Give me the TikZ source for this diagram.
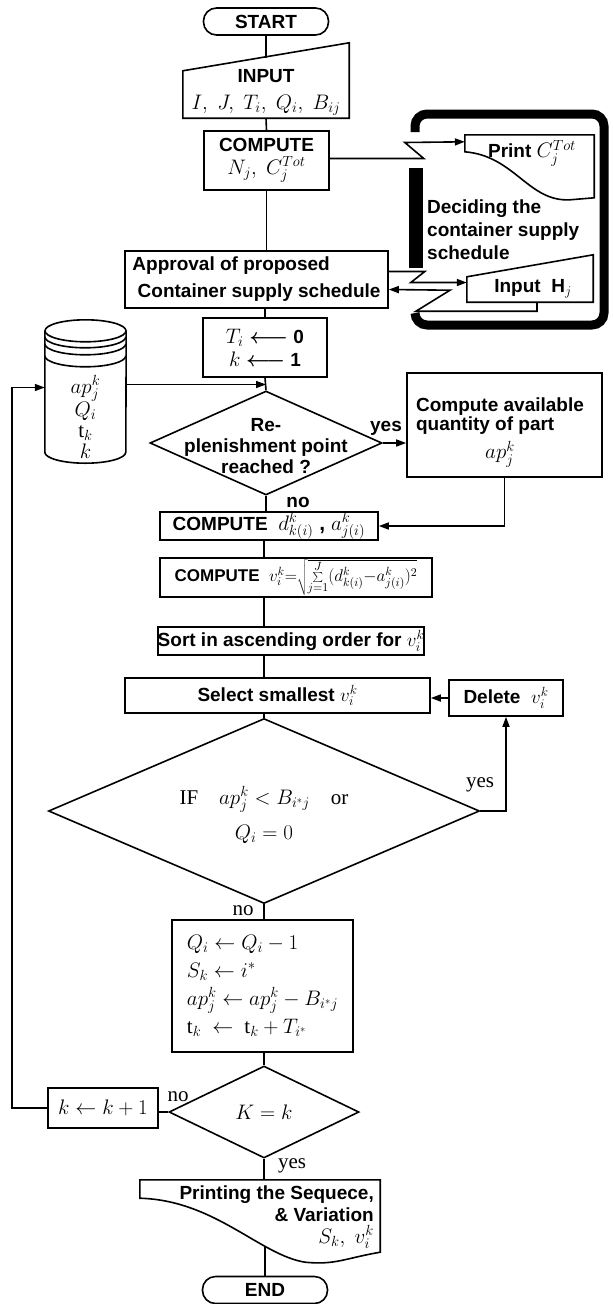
\RequirePackage{fix-cm}
\documentclass[tikz,border=0pt]{standalone}
\usepackage{fontspec}
\setmainfont{Liberation Serif}
\setsansfont{Liberation Sans}
\usetikzlibrary{shapes.geometric,arrows.meta,calc}

\newcommand{\lblfont}{\sffamily\bfseries\fontsize{19}{23}\selectfont}
\newcommand{\mfont}{\fontsize{21}{26}\selectfont}

\begin{document}
\begin{tikzpicture}[
  x=1pt, y=-1pt,
  line/.style={line width=1.6pt},
  box/.style={rectangle, draw, line width=1.6pt, align=center, font=\lblfont, inner sep=0pt},
  term/.style={box, rounded corners=13pt, minimum width=125pt, minimum height=27pt},
  hold/.style={rectangle, inner sep=0pt},
  dia/.style={diamond, draw, line width=1.6pt, inner sep=0pt},
  arrow/.style={line, -{Triangle[length=10pt, width=7pt]}},
  tag/.style={font=\lblfont, inner sep=0pt},
  rmtag/.style={font=\rmfamily\fontsize{21}{25}\selectfont, inner sep=0pt},
]
\useasboundingbox (0,0) rectangle (613,1304);
\coordinate (axis) at (264,0);

% === Start / input ===
\node[term] (start) at (266, 21.5) {START};
\node[hold, minimum width=166pt, minimum height=75pt] (inp) at (266, 80.5) {};
\draw[line] (inp.south west) -- (inp.south east) -- (inp.north east) -- ([yshift=-28pt]inp.north west) -- cycle;
\node[tag, align=center] (inptxt) at (266, 92) {INPUT\\[4pt]{\mfont $I,\ J,\ T_i,\ Q_i,\ B_{ij}$}};
\coordinate (inptop) at (266, 57.5);
\draw[line] (start) -- (inptop);

% === Compute N, C ===
\node[box, minimum width=125pt, minimum height=59pt] (cnj) at (266.5, 160.5) {COMPUTE\\{\mfont $N_j,\ C_j^{Tot}$}};
\draw[line] (inp.south) -- (cnj.north);

% === Approval ===
\node[box, minimum width=263pt, minimum height=57pt, align=left] (appr) at (256.5, 279.5) {Approval of proposed\\[4pt]\ Container supply schedule};
\draw[line] (cnj.south) -- (cnj.south |- appr.north);

% === Supply schedule frame (right) ===
\node[hold, minimum width=129pt, minimum height=65pt] (prc) at (529.5, 167.5) {};
\draw[line] (prc.north west) -- (prc.north east) -- ++(0,63) -- ++(-24,2)
  .. controls ($(prc.south east)+(-66,2)$) and ($(prc.north west)+(50,21)$) .. ([yshift=-17pt]prc.north west) -- cycle;
\node[tag] (prctxt) at (532, 153) {Print {\mfont $C_j^{Tot}$}};

\node[hold, minimum width=126pt, minimum height=47pt] (inh) at (530, 278.5) {};
\draw[line] (inh.south west) -- (inh.south east) -- (inh.north east) -- ([yshift=-22pt]inh.north west) -- cycle;
\node[tag] (inhtxt) at (533, 289) {Input\ \ H$_j$};

\node[tag, align=left, anchor=west] (dec) at (427, 230) {Deciding the\\container supply\\schedule};

\draw[line width=9pt, rounded corners=12pt] (415,132) -- (415,114) -- (604,114) -- (604,325) -- (415,325) -- (415,313);
\draw[line width=14pt] (415.5,168) -- (415.5,268);

\draw[arrow] ([yshift=2pt]cnj.east) -- ++(94,0) -- ++(-19,-16) -- ([yshift=-7pt]prc.north west);
\draw[arrow] ([yshift=8pt]appr.east) -- ++(36,0) -- ++(-14,11) -- ([yshift=-4pt]inh.west);
\draw[arrow] ([xshift=7pt]inh.south) -- ++(0,9) -- ++(-121,0) -- ++(34,-21) -- ([yshift=-10pt]appr.east);

% === Init ===
\node[box, minimum width=124pt, minimum height=59pt] (tbox) at (265, 347.5) {{\mfont $T_i$ {\boldmath$\longleftarrow$}} 0\\{\mfont $k$ {\boldmath$\longleftarrow$}} 1};
\draw[line] (tbox.north |- appr.south) -- (tbox.north);

% === Data store ===
\node[hold, minimum width=81pt, minimum height=143pt] (store) at (85.5, 391.5) {};
\draw[line] ([yshift=-11pt]store.north west) -- ([yshift=11pt]store.south west)
  arc[start angle=180, end angle=360, x radius=40.5pt, y radius=11pt] -- ([yshift=-11pt]store.north east);
\draw[line] ([yshift=-11pt]store.north) ellipse[x radius=40.5pt, y radius=11pt];
\foreach \off in {17,24,36}
  \draw[line] ([yshift=-\off pt]store.north west) arc[start angle=180, end angle=360, x radius=40.5pt, y radius=11pt];
\node[align=center, inner sep=0pt, font=\fontsize{21}{21}\selectfont] (storetxt) at (85.5, 417) {$ap_j^k$\\$Q_i$\\$\mathrm{t}_k$\\$k$};

% === Replenishment ===
\node[dia, minimum width=232pt, minimum height=104pt] (rep) at (266, 443) {};
\node[tag, align=center, font=\sffamily\bfseries\fontsize{19}{21}\selectfont] (reptxt) at (266, 446) {Re-\\plenishment point\\reached ?};
\draw[line] (tbox.south) -- (rep.north);
\coordinate (storeout) at ([yshift=7pt]store.east);
\draw[arrow] (storeout) -- (storeout -| rep.north);

\node[box, minimum width=195pt, minimum height=104pt] (cav) at (504.5, 425) {};
\node[tag, align=left, font=\sffamily\bfseries\fontsize{19}{19}\selectfont] (cavtxt) at (500, 416) {Compute available\\quantity of part};
\node[inner sep=0pt, font=\mfont] (cavap) at (500, 454) {$ap_j^k$};
\draw[arrow] (rep.east) -- (rep.east -| cav.west);
\node[tag] (repyes) at (386, 428) {yes};

% === Distances ===
\node[box, minimum width=218pt, minimum height=28pt] (dbox) at (269, 526) {COMPUTE\ \ {\mfont $d^k_{k(i)}$\ ,\ $a^k_{j(i)}$}};
\draw[line] (rep.south) -- (rep.south |- dbox.north);
\node[tag] (repno) at (298, 502) {no};
\draw[arrow] (cav.south) |- (dbox.east);

\node[box, minimum width=272pt, minimum height=39pt, font=\sffamily\bfseries\fontsize{17}{20}\selectfont] (vbox) at (296, 577.5) {COMPUTE\ \ $v_i^k{=}\sqrt{\sum\limits_{j=1}^{J}(d^k_{k(i)}{-}a^k_{j(i)})^2}$};
\draw[line] (dbox.south -| axis) -- (vbox.north -| axis);

\node[box, minimum width=262pt, minimum height=28pt] (sbox) at (291, 641) {Sort in ascending order for $v_i^k$};
\draw[line] (vbox.south -| axis) -- (sbox.north -| axis);

% === Select / delete ===
\node[box, minimum width=305pt, minimum height=35pt] (sel) at (277.5, 695.5) {Select smallest $v_i^k$};
\node[box, minimum width=114pt, minimum height=36pt] (del) at (506, 698) {Delete\ \ $v_i^k$};
\draw[line] (sbox.south -| axis) -- (sel.north -| axis);
\draw[arrow] (del.west) -- (del.west -| sel.east);

\node[dia, minimum width=431pt, minimum height=185pt] (cond) at (264, 811) {};
\node[rmtag, align=center] (condtxt) at (264, 815) {IF\quad $ap_j^k < B_{i^*j}$\quad or\\[10pt]$Q_i = 0$};
\draw[line] (sel.south -| axis) -- (cond.north);
\draw[arrow] (cond.east) -| (del.south);
\node[rmtag] (condyes) at (480, 785) {yes};

% === Update ===
\node[box, minimum width=181pt, minimum height=132pt, align=left, font=\fontsize{21}{28}\selectfont] (qbox) at (262.5, 986) {$Q_i \leftarrow Q_i - 1$\\$S_k \leftarrow i^*$\\$ap_j^k \leftarrow ap_j^k - B_{i^*j}$\\$\mathrm{t}_k\ \leftarrow\ \mathrm{t}_k + T_{i^*}$};
\draw[line] (cond.south) -- (cond.south |- qbox.north);
\node[rmtag] (condno) at (243, 911) {no};

% === Loop test ===
\node[dia, minimum width=190pt, minimum height=92pt] (kk) at (264, 1112) {};
\node[inner sep=0pt, font=\mfont] (kktxt) at (kk) {$K = k$};
\draw[line] (qbox.south -| axis) -- (kk.north);

\node[box, minimum width=110pt, minimum height=40pt, font=\mfont] (inc) at (103, 1108) {$k \leftarrow k+1$};
\draw[line] (kk.west) -- (kk.west -| inc.east);
\node[rmtag] (kkno) at (178, 1097) {no};
\coordinate (loopx) at (12, 0);
\draw[arrow] (inc.west) -- (inc.west -| loopx) |- ([yshift=4pt]store.west);

% === Output / end ===
\node[hold, minimum width=240pt, minimum height=72pt] (pout) at (260, 1216) {};
\draw[line] (pout.north west) -- (pout.north east) -- (pout.south east)
  .. controls ($(pout.south east)+(-35,6)$) and ($(pout.south east)+(-45,13)$) .. ($(pout.south east)+(-75,10)$)
  .. controls ($(pout.south east)+(-120,3)$) and ($(pout.south west)+(75,-52)$) .. ($(pout.south west)+(0,-54)$) -- cycle;
\node[tag, align=right, anchor=east, font=\sffamily\bfseries\fontsize{19}{22}\selectfont] (pouttxt) at (374, 1217) {Printing the Sequece,\\\& Variation\\{\mfont $S_k,\ v_i^k$}};
\draw[line] (kk.south) -- (kk.south |- pout.north);
\node[rmtag] (kkyes) at (292, 1166) {yes};

\node[term] (endn) at (265, 1290) {END};
\coordinate (poutbot) at (265, 1247);
\draw[line] (poutbot) -- (endn);

\end{tikzpicture}
\end{document}
